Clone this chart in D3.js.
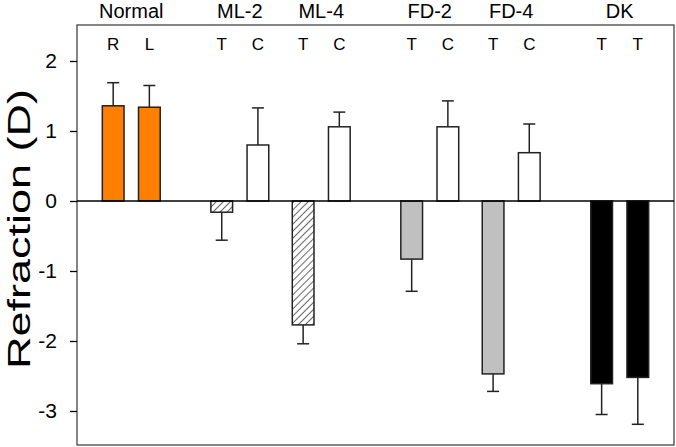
<!DOCTYPE html>
<html>
<head>
<meta charset="utf-8">
<script src="https://cdn.jsdelivr.net/npm/d3@7"></script>
<style>
  html, body { margin: 0; padding: 0; background: #fff; }
  text { font-family: Arial, "Liberation Sans", sans-serif; fill: #000; }
</style>
</head>
<body>
<div id="chart"></div>
<script>
// group headers above the frame
const groups = ["Normal", "ML-2", "ML-4", "FD-2", "FD-4", "DK"];
// each bar: sub label, slot on the x axis, mean, one-sided error, treatment kind
const barLabels = ["R", "L", "T", "C", "T", "C", "T", "C", "T", "C", "T", "T"];
const barGroup = [0, 0, 1, 1, 2, 2, 3, 3, 4, 4, 5, 5];
const barSlots = [0, 4, 12, 16, 21, 25, 33, 37, 42, 46, 54, 58];
const means = [1.36, 1.34, -0.16, 0.80, -1.77, 1.06, -0.83, 1.06, -2.47, 0.69, -2.61, -2.52];
const errors = [0.33, 0.31, 0.40, 0.53, 0.27, 0.21, 0.46, 0.37, 0.25, 0.41, 0.44, 0.67];
const kinds = ["normal", "normal", "lens", "control", "lens", "control", "diffuser", "control", "diffuser", "control", "dark", "dark"];
const yTicks = [-3, -2, -1, 0, 1, 2];

const W = 676, H = 447;
const frame = { left: 77, top: 25, right: 674, bottom: 445 };

const svg = d3.select("#chart").append("svg")
    .attr("width", W)
    .attr("height", H);

// diagonal hatch for the lens-treated bars
const defs = svg.append("defs");
const pat = defs.append("pattern")
    .attr("id", "hatch")
    .attr("patternUnits", "userSpaceOnUse")
    .attr("width", 5)
    .attr("height", 5)
    .attr("patternTransform", "rotate(45)");
pat.append("rect").attr("width", 5).attr("height", 5).attr("fill", "#fff");
pat.append("line")
    .attr("x1", 0).attr("y1", 0).attr("x2", 0).attr("y2", 5)
    .attr("stroke", "#000").attr("stroke-width", 1.2);

const fillOf = { normal: "#ff8000", lens: "url(#hatch)", control: "#ffffff", diffuser: "#c0c0c0", dark: "#000000" };

const x = d3.scaleLinear().domain([-4, 62]).range([frame.left, frame.right]);
const y = d3.scaleLinear().domain([-3.5, 2.5]).range([446, 26]);
const barW = x(2.4) - x(0);
const capW = 12;

const data = means.map((m, i) => ({
    label: barLabels[i], group: barGroup[i], slot: barSlots[i],
    mean: m, err: errors[i], kind: kinds[i]
}));

// frame
svg.append("rect")
    .attr("x", frame.left).attr("y", frame.top)
    .attr("width", frame.right - frame.left)
    .attr("height", frame.bottom - frame.top)
    .attr("fill", "none")
    .attr("stroke", "#444")
    .attr("stroke-width", 1.3);

// error bars (drawn first, bars cover the inner part)
const eb = svg.append("g").selectAll("g").data(data).enter().append("g");
eb.append("line")
    .attr("x1", d => x(d.slot)).attr("x2", d => x(d.slot))
    .attr("y1", d => y(d.mean))
    .attr("y2", d => y(d.mean + Math.sign(d.mean) * d.err))
    .attr("stroke", "#222").attr("stroke-width", 1.5);
eb.append("line")
    .attr("x1", d => x(d.slot) - capW / 2).attr("x2", d => x(d.slot) + capW / 2)
    .attr("y1", d => y(d.mean + Math.sign(d.mean) * d.err))
    .attr("y2", d => y(d.mean + Math.sign(d.mean) * d.err))
    .attr("stroke", "#222").attr("stroke-width", 1.5);

// bars
svg.append("g").selectAll("rect").data(data).enter().append("rect")
    .attr("x", d => x(d.slot) - barW / 2)
    .attr("width", barW)
    .attr("y", d => y(Math.max(0, d.mean)))
    .attr("height", d => Math.abs(y(d.mean) - y(0)))
    .attr("fill", d => fillOf[d.kind])
    .attr("stroke", "#222")
    .attr("stroke-width", 1.5);

// zero line
svg.append("line")
    .attr("x1", frame.left).attr("x2", frame.right)
    .attr("y1", y(0)).attr("y2", y(0))
    .attr("stroke", "#000").attr("stroke-width", 1.5);

// y axis
const yAxis = svg.append("g")
    .attr("transform", "translate(" + frame.left + ",0)")
    .call(d3.axisLeft(y).tickValues(yTicks).tickSize(7).tickPadding(13).tickFormat(d3.format("d")));
yAxis.select(".domain").remove();
yAxis.selectAll("line").attr("stroke", "#000").attr("stroke-width", 1.3);
yAxis.selectAll("text").style("font-size", "21px").attr("fill", "#000")
    .text(d => d < 0 ? "-" + Math.abs(d) : d);

// Y-axis label
svg.append("text")
    .attr("transform", "translate(29.5," + 229 + ")rotate(-90)")
    .attr("text-anchor", "middle")
    .attr("textLength", 280)
    .attr("lengthAdjust", "spacingAndGlyphs")
    .style("font-size", "32px")
    .text("Refraction (D)");

// group headers
svg.append("g").selectAll("text").data(groups).enter().append("text")
    .attr("x", (g, gi) => {
        const s = data.filter(d => d.group === gi).map(d => x(d.slot));
        return d3.mean(s);
    })
    .attr("y", 18)
    .attr("text-anchor", "middle")
    .style("font-size", "20px")
    .text(g => g);

// sub labels
svg.append("g").selectAll("text").data(data).enter().append("text")
    .attr("x", d => x(d.slot))
    .attr("y", 50)
    .attr("text-anchor", "middle")
    .style("font-size", "17px")
    .text(d => d.label);
</script>
</body>
</html>
